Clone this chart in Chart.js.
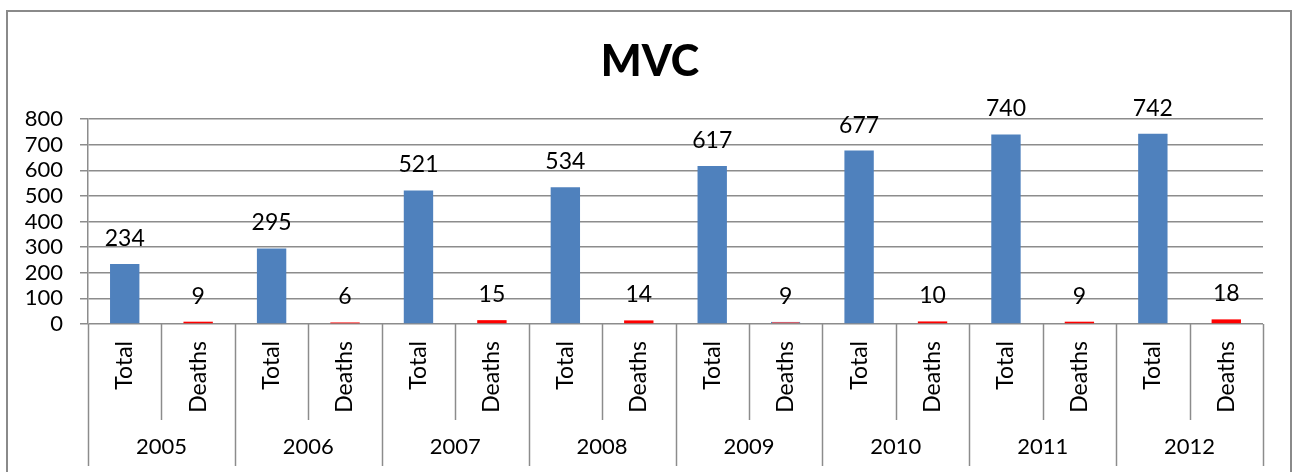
<!DOCTYPE html>
<html>
<head>
<meta charset="utf-8">
<title>MVC</title>
<script src="https://cdn.jsdelivr.net/npm/chart.js@4/dist/chart.umd.min.js"></script>
<style>
  html, body { margin: 0; padding: 0; background: #ffffff; }
  #wrap { width: 1297px; height: 472px; position: relative; }
</style>
</head>
<body>
<div id="wrap"><canvas id="mvc" width="1297" height="472"></canvas></div>
<script>
// Yearly motor vehicle collision counts and deaths
const chartTitle = 'MVC';
const years = ['2005', '2006', '2007', '2008', '2009', '2010', '2011', '2012'];
const measures = ['Total', 'Deaths'];
const totals = [234, 295, 521, 534, 617, 677, 740, 742];
const deaths = [9, 6, 15, 14, 9, 10, 9, 18];
const yTicks = [0, 100, 200, 300, 400, 500, 600, 700, 800];

const BLUE = '#4F81BD';
const RED = '#FF0000';
const LINE = '#8c8c8c';
const FONT = 'Lato, "Open Sans", sans-serif';

// Interleave the two measures per year: Total, Deaths, Total, Deaths ...
const labels = [];
const values = [];
const fills = [];
const edges = [];
const edgeWidths = [];
years.forEach((y, i) => {
  labels.push(measures[0], measures[1]);
  values.push(totals[i], deaths[i]);
  fills.push(BLUE, RED);
  // the 2009 deaths bar carries a blue outline
  const outlined = y === '2009';
  edges.push(BLUE, outlined ? BLUE : RED);
  edgeWidths.push(0, outlined ? 1 : 0);
});

// White background, outer frame and the heading centred on the frame
const framePlugin = {
  id: 'frame',
  beforeDraw(chart) {
    const ctx = chart.ctx;
    ctx.save();
    ctx.fillStyle = '#ffffff';
    ctx.fillRect(0, 0, chart.width, chart.height);
    ctx.strokeStyle = '#8a8a8a';
    ctx.lineWidth = 2;
    ctx.strokeRect(7, 11, 1284, 500);
    ctx.fillStyle = '#000000';
    ctx.font = '900 43px ' + FONT;
    ctx.textAlign = 'center';
    ctx.textBaseline = 'alphabetic';
    ctx.fillText(chartTitle, 650, 76);
    ctx.restore();
  }
};

// Value labels above each bar
const valueLabels = {
  id: 'valueLabels',
  afterDatasetsDraw(chart) {
    const ctx = chart.ctx;
    const meta = chart.getDatasetMeta(0);
    ctx.save();
    ctx.fillStyle = '#000000';
    ctx.font = '23px ' + FONT;
    ctx.textAlign = 'center';
    ctx.textBaseline = 'alphabetic';
    meta.data.forEach((bar, i) => {
      ctx.fillText(String(values[i]), bar.x, bar.y - 18);
    });
    ctx.restore();
  }
};

// Separators of the two-level category axis
const categoryDividers = {
  id: 'categoryDividers',
  afterDraw(chart) {
    const x = chart.scales.x;
    const x2 = chart.scales.x2;
    const ctx = chart.ctx;
    const n = labels.length;
    const step = (x.right - x.left) / n;
    ctx.save();
    ctx.strokeStyle = LINE;
    ctx.lineWidth = 1.5;
    for (let i = 0; i <= n; i++) {
      const px = Math.round(x.left + i * step) + 0.5;
      const bottom = i % 2 === 0 ? x2.bottom - 6 : x.bottom;
      ctx.beginPath();
      ctx.moveTo(px, x.top);
      ctx.lineTo(px, bottom);
      ctx.stroke();
    }
    ctx.restore();
  }
};

new Chart(document.getElementById('mvc'), {
  type: 'bar',
  data: {
    labels: labels,
    datasets: [{
      label: chartTitle,
      data: values,
      backgroundColor: fills,
      borderColor: edges,
      borderWidth: edgeWidths,
      categoryPercentage: 1.0,
      barPercentage: 0.4
    }]
  },
  options: {
    responsive: false,
    animation: false,
    devicePixelRatio: 1,
    layout: { padding: { top: 119, right: 34, bottom: 0, left: 0 } },
    plugins: {
      legend: { display: false },
      tooltip: { enabled: false },
      title: { display: false }
    },
    scales: {
      x: {
        type: 'category',
        position: 'bottom',
        offset: true,
        grid: { display: false, drawTicks: false },
        border: { display: false },
        ticks: {
          autoSkip: false,
          minRotation: 90,
          maxRotation: 90,
          padding: 17,
          color: '#000000',
          font: { family: FONT, size: 23 }
        },
        afterFit(scale) { scale.height = 96; }
      },
      x2: {
        type: 'category',
        position: 'bottom',
        labels: years,
        offset: true,
        grid: { display: false, drawTicks: false },
        border: { display: false },
        ticks: {
          autoSkip: false,
          maxRotation: 0,
          padding: 14,
          color: '#000000',
          font: { family: FONT, size: 22 }
        },
        afterFit(scale) { scale.height = 52; }
      },
      y: {
        min: 0,
        max: 800,
        afterBuildTicks(scale) { scale.ticks = yTicks.map(v => ({ value: v })); },
        grid: { color: LINE, lineWidth: 1.5, tickLength: 8, drawTicks: true },
        border: { display: true, color: LINE, width: 1.5 },
        ticks: {
          autoSkip: false,
          padding: 17,
          color: '#000000',
          font: { family: FONT, size: 22 }
        },
        afterFit(scale) { scale.width = 88; }
      }
    }
  },
  plugins: [framePlugin, valueLabels, categoryDividers]
});
</script>
</body>
</html>
